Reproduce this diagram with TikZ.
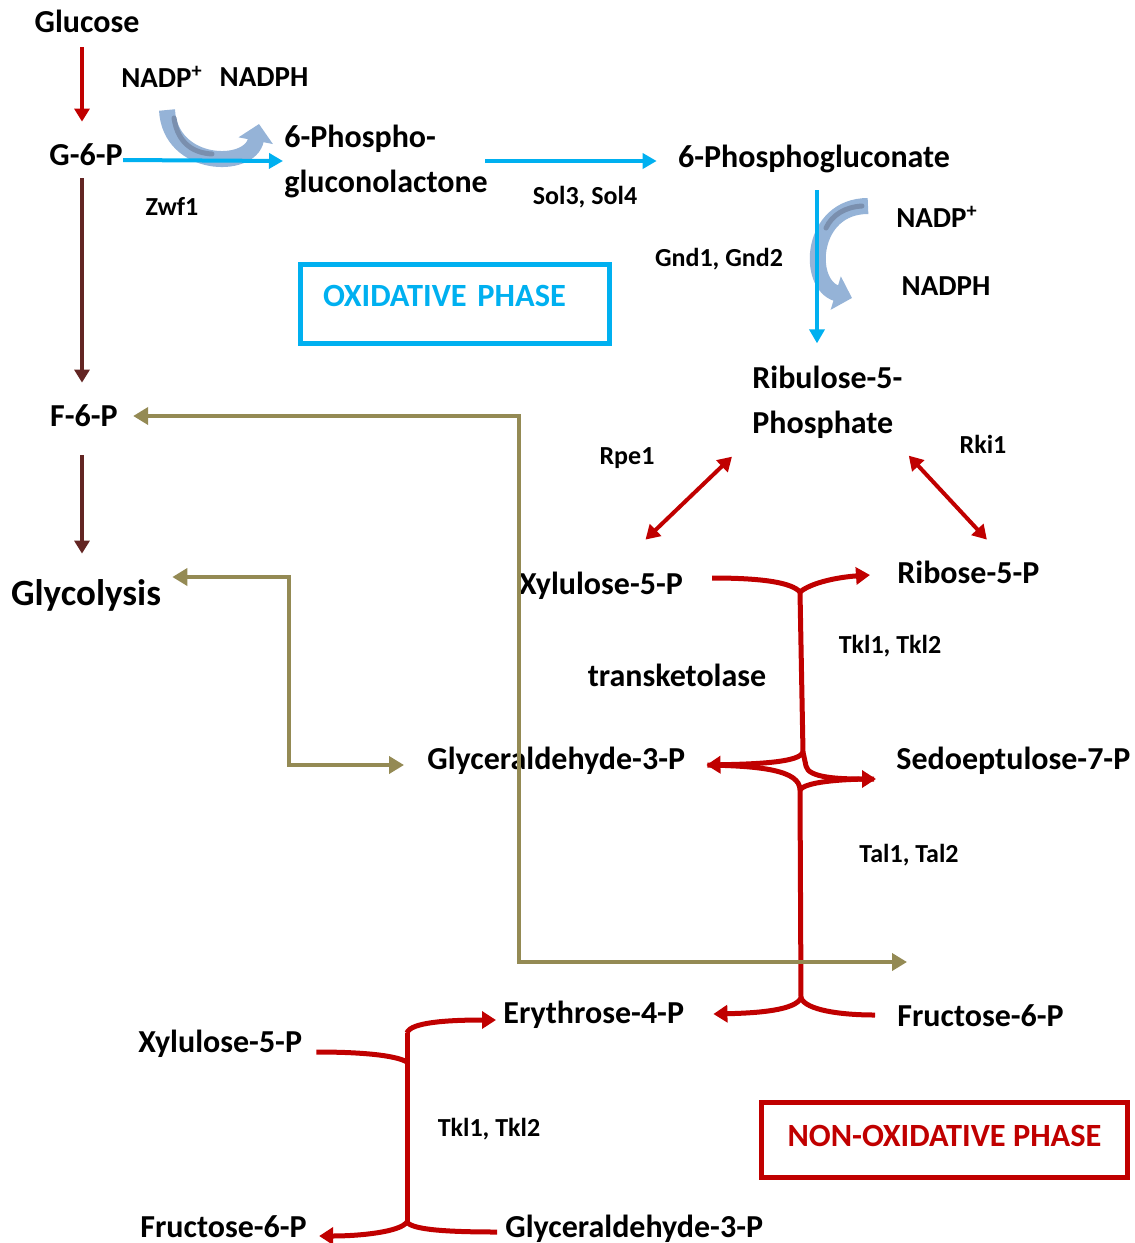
\documentclass[tikz,border=0pt]{standalone}
\usepackage{fontspec}
\setmainfont{Carlito}
\usepackage{tikz}
\usetikzlibrary{arrows.meta}
\definecolor{PPPBlue}  {HTML}{00B0F0}
\definecolor{PPPRed}   {HTML}{C00000}
\definecolor{PPPBrown} {HTML}{632523}
\definecolor{PPPOlive} {HTML}{948A54}
\definecolor{PPPSteel} {HTML}{95B3D7}
\definecolor{PPPSteelDk}{HTML}{7A8FAE}
\newcommand{\metfont}{\bfseries\fontsize{16}{22.5}\selectfont}
\newcommand{\enzfont}{\bfseries\fontsize{13}{15}\selectfont}
\newcommand{\glyfont}{\bfseries\fontsize{18.5}{22}\selectfont}
\newcommand{\nadfont}{\bfseries\fontsize{14.5}{17}\selectfont}
\newcommand{\phasefont}{\bfseries\fontsize{16.2}{18}\selectfont}

\begin{document}
\begin{tikzpicture}[x=0.5pt,y=-0.5pt,
    met/.style={font=\metfont,inner sep=0pt,text height=11pt,text depth=3pt},
    metwo/.style={font=\metfont,inner sep=0pt,align=left},
    enz/.style={font=\enzfont,inner sep=0pt},
    nad/.style={font=\nadfont,inner sep=0pt},
    phasebox/.style={draw,line width=2.5pt,font=\phasefont,inner ysep=0pt},
    bluearr/.style={PPPBlue,line width=2pt,-{Triangle[width=7.5pt,length=7pt]}},
    glcarr/.style={PPPRed,line width=2pt,-{Triangle[width=7.5pt,length=6.5pt]}},
    brnarr/.style={PPPBrown,line width=2pt,-{Triangle[width=7.5pt,length=6.5pt]}},
    epiarr/.style={PPPRed,line width=2pt,
      {Triangle[width=8pt,length=7pt]}-{Triangle[width=8pt,length=7pt]}},
    olvarr/.style={PPPOlive,line width=2pt,
      {Triangle[width=8.5pt,length=7.5pt]}-{Triangle[width=8.5pt,length=7.5pt]}},
    tkarm/.style={PPPRed,line width=2.5pt},
    tkhead/.style={PPPRed,line width=2.5pt,-{Triangle[width=8.5pt,length=7pt]}},
    nadarc/.style={PPPSteel,line width=8pt,-{Triangle[width=17pt,length=8.5pt]}},
    nadshade/.style={PPPSteelDk,line width=2.5pt,line cap=round}]
  \useasboundingbox (0,0) rectangle (1135,1243);

  \node[met] (glucose) at (87,24) {Glucose};
  \node[met] (g6p) at (86,157) {G-6-P};
  \node[met] (f6p) at (84,418) {F-6-P};
  \node[font=\glyfont,inner sep=0pt,text height=13pt,text depth=4pt] (glyco) at (86,596) {Glycolysis};
  \node[metwo,anchor=west] (pgl) at (284,161) {6-Phospho-\\gluconolactone};
  \node[met] (pgn) at (814,159) {6-Phosphogluconate};
  \node[metwo,anchor=west] (ru5p) at (752,402) {Ribulose-5-\\Phosphate};
  \node[met] (xu5p) at (601,586) {Xylulose-5-P};
  \node[met,anchor=west] (r5p) at (897,575) {Ribose-5-P};
  \node[met,anchor=west] (gap) at (427,761) {Glyceraldehyde-3-P};
  \node[met,anchor=west] (s7p) at (896,761) {Sedoeptulose-7-P};
  \node[met,anchor=west] (e4p) at (503,1015) {Erythrose-4-P};
  \node[met,anchor=west] (f6pb) at (897,1018) {Fructose-6-P};
  \node[met,anchor=west] (xu5pb) at (138,1044) {Xylulose-5-P};
  \node[met,anchor=west] (f6pc) at (140,1229) {Fructose-6-P};
  \node[met,anchor=west] (gapb) at (505,1229) {Glyceraldehyde-3-P};
  \node[font=\metfont,inner sep=0pt] (transk) at (677,675) {transketolase};

  \node[enz] (zwf) at (172,206) {Zwf1};
  \node[enz] (sol) at (585,197) {Sol3, Sol4};
  \node[enz] (gnd) at (719,259) {Gnd1, Gnd2};
  \node[enz] (rpe) at (627,458) {Rpe1};
  \node[enz] (rki) at (983,444) {Rki1};
  \node[enz] (tkl) at (890,646) {Tkl1, Tkl2};
  \node[enz] (tal) at (909,855) {Tal1, Tal2};
  \node[enz] (tklb) at (489,1129) {Tkl1, Tkl2};

  \node[nad] (nadpa) at (162,77) {NADP\textsuperscript{+}};
  \node[nad] (nadpha) at (264,77) {NADPH};
  \node[nad] (nadpb) at (937,217) {NADP\textsuperscript{+}};
  \node[nad] (nadphb) at (946,286) {NADPH};

  \node[phasebox,draw=PPPBlue,text=PPPBlue,anchor=center,
        minimum height=39.5pt,text height=20.75pt,text depth=18.75pt,
        inner xsep=11.25pt,text width=132pt,align=left] (oxbox) at (455,304) {OXIDATIVE PHASE};
  \node[phasebox,draw=PPPRed,text=PPPRed,anchor=center,inner xsep=0pt,
        minimum width=183pt,minimum height=37.5pt,text height=21.75pt,text depth=15.75pt]
        (nonox) at (944.5,1140) {NON-OXIDATIVE PHASE};

  \draw[nadarc] (167,110) .. controls (170,168) and (250,170) .. (259,124);
  \draw[nadshade] (174,118) .. controls (178,145) and (195,153) .. (212,154);
  \draw[nadarc] (868,206) .. controls (810,206) and (806,284) .. (852,298);
  \draw[nadshade] (862,206) .. controls (845,207) and (832,215) .. (826,228);

  \draw[glcarr,shorten <=4.5pt,shorten >=10.5pt] ([xshift=-2.5pt]glucose.south) -- ([xshift=-2pt]g6p.north);
  \draw[brnarr,shorten <=3.5pt,shorten >=10.5pt] ([xshift=-2pt]g6p.south) -- ([xshift=-1pt]f6p.north);
  \draw[brnarr,shorten <=11.5pt,shorten >=12.5pt] ([xshift=-1pt]f6p.south) -- ([xshift=-2pt]glyco.north);
  \draw[bluearr] ([yshift=-1.5pt]g6p.east) -- ([xshift=-0.5pt]pgl.west);
  \draw[bluearr,shorten >=10.5pt] ([xshift=-1.5pt]pgl.east) -- (pgl.east -| pgn.west);
  \draw[bluearr,shorten <=8.5pt,shorten >=11pt] ([xshift=1.5pt]pgn.south) -- ([xshift=1.5pt]pgn.south |- ru5p.north);

  \draw[epiarr] ([xshift=-10pt,yshift=-9pt]ru5p.south west) -- ([xshift=22.25pt,yshift=16pt]xu5p.north);
  \draw[epiarr] ([xshift=3pt,yshift=-8.5pt]ru5p.south east) -- ([xshift=9.25pt,yshift=10.5pt]r5p.north);

  \coordinate (tkTop) at (800,592);
  \coordinate (tkBot) at (803,752);
  \coordinate (talTop) at (800,790);
  \coordinate (talBot) at (801,998);
  \draw[tkarm] ([xshift=14.5pt,yshift=4pt]xu5p.east) .. controls (765,578) and (792,583) .. (tkTop);
  \draw[tkhead] (tkTop) .. controls (812,582) and (840,577) .. ([xshift=-13.5pt]r5p.west);
  \draw[tkarm] (tkTop) -- (tkBot);
  \draw[tkhead] (tkBot) .. controls (800,762) and (760,764) .. ([xshift=10.5pt,yshift=-2pt]gap.east);
  \draw[tkhead] (tkBot) -- (806,766) .. controls (808,778) and (840,779) .. ([xshift=-10pt,yshift=-9pt]s7p.west);
  \draw[tkarm] ([xshift=11pt,yshift=-2pt]gap.east) .. controls (760,766) and (800,770) .. (talTop);
  \draw[tkarm] (talTop) .. controls (805,782) and (840,779) .. ([xshift=-11pt,yshift=-9pt]s7p.west);
  \draw[tkarm] (talTop) -- (talBot);
  \draw[tkhead] (talBot) .. controls (795,1010) and (760,1013) .. ([xshift=14.5pt,yshift=0.5pt]e4p.east);
  \draw[tkarm] (talBot) .. controls (806,1010) and (840,1015) .. ([xshift=-11pt,yshift=1.5pt]f6pb.west);

  \coordinate (lbTop) at (407,1033);
  \coordinate (lbBot) at (407,1222);
  \draw[tkhead] (lbTop) .. controls (410,1022) and (450,1020) .. ([xshift=-3.5pt,yshift=-2.5pt]e4p.west);
  \draw[tkarm] ([xshift=7pt,yshift=-4pt]xu5pb.east) .. controls (360,1052) and (395,1055) .. (407,1062);
  \draw[tkarm] (lbTop) -- (lbBot);
  \draw[tkhead] (lbBot) .. controls (400,1232) and (360,1236) .. ([xshift=6pt,yshift=-3.5pt]f6pc.east);
  \draw[tkarm] (lbBot) .. controls (412,1230) and (450,1232) .. ([xshift=-4pt,yshift=-1.5pt]gapb.west);

  \coordinate (oTurn) at (519,962);
  \coordinate (oEnd) at (907,962);
  \coordinate (gTurn) at (289,765);
  \draw[olvarr] ([xshift=7.5pt,yshift=1pt]f6p.east) -| (oTurn) -- (oEnd);
  \draw[olvarr] ([xshift=5.5pt,yshift=9.5pt]glyco.east) -| (gTurn) -- ([xshift=-11.5pt,yshift=-2pt]gap.west);
\end{tikzpicture}
\end{document}
